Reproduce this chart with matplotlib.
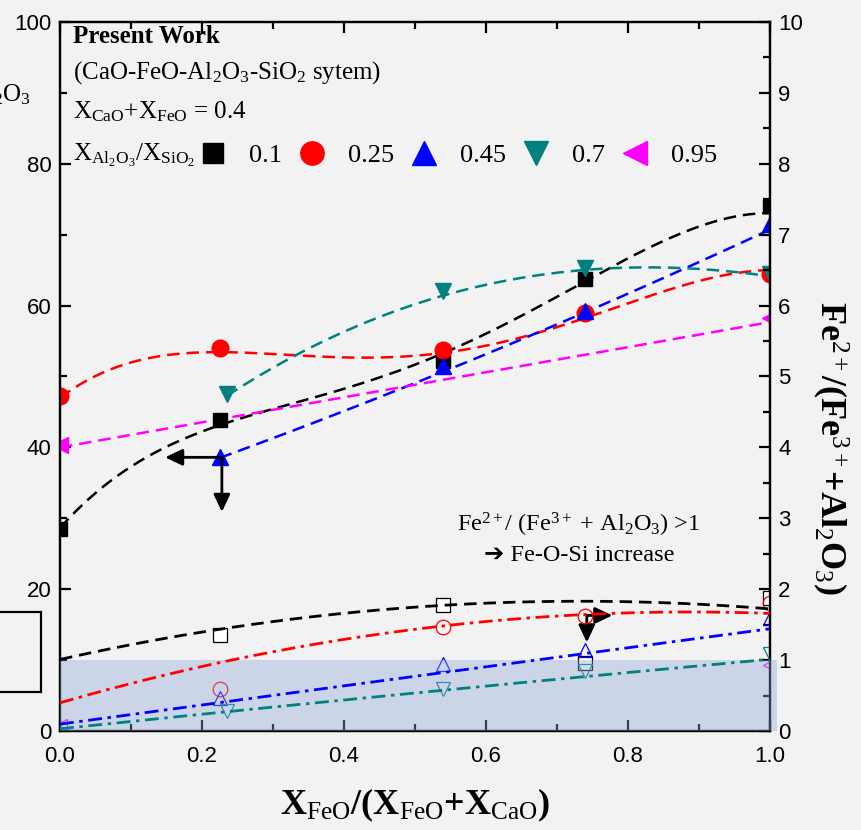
import numpy as np
import matplotlib
matplotlib.use("Agg")
import matplotlib.pyplot as plt
from matplotlib.patches import Rectangle

plt.rcParams['font.family'] = ['Liberation Serif', 'DejaVu Serif']
plt.rcParams['mathtext.fontset'] = 'custom'
plt.rcParams['mathtext.rm'] = 'Liberation Serif'
plt.rcParams['mathtext.it'] = 'Liberation Serif:italic'
plt.rcParams['mathtext.bf'] = 'Liberation Serif:bold'
plt.rcParams['lines.scale_dashes'] = False

# ratio X_Al2O3/X_SiO2 for each series
ratios = ['0.1', '0.25', '0.45', '0.7', '0.95']
colors = ['black', '#ff0000', '#0000ff', '#008080', '#ff00ff']
mk_full = ['s', 'o', '^', 'v', '<']

# upper data (left axis, 0-100), filled markers
up_x = [[0.0, 0.225, 0.54, 0.74, 1.0],
        [0.0, 0.225, 0.54, 0.74, 1.0],
        [0.225, 0.54, 0.74, 1.0],
        [0.235, 0.54, 0.74, 1.0],
        [0.0, 1.0]]
up_y = [[28.5, 43.8, 52.2, 63.8, 74.0],
        [47.2, 54.0, 53.7, 59.0, 64.5],
        [38.7, 51.5, 59.2, 71.5],
        [47.5, 62.0, 65.3, 64.5],
        [40.3, 58.3]]

# trend lines of upper data
fit_up_x = [[0.0, 0.016, 0.138, 0.22, 0.374, 0.538, 0.59, 0.665, 0.739, 0.996],
            [0.0, 0.225, 0.435, 0.54, 0.74, 1.0],
            [0.223, 0.538, 0.741, 0.996],
            [0.241, 0.477, 0.538, 0.739, 0.854, 0.996],
            [0.0, 0.996]]
fit_up_y = [[28.8, 30.4, 38.6, 43.6, 48.0, 52.7, 55.1, 59.7, 63.6, 73.0],
            [47.0, 53.4, 52.8, 53.2, 58.3, 65.0],
            [38.4, 50.8, 58.9, 70.6],
            [47.7, 59.0, 61.7, 65.3, 65.0, 64.3],
            [40.0, 57.6]]
fit_up_deg = [4, 4, 2, 3, 1]

# lower data (right axis, Fe2+/(Fe3+ + Al2O3)), open markers
lo_x = [[0.225, 0.54, 0.74, 1.0],
        [0.225, 0.54, 0.74, 1.0],
        [0.225, 0.54, 0.74, 1.0],
        [0.235, 0.54, 0.74, 1.0],
        [0.0, 1.0]]
lo_y = [[1.36, 1.78, 0.96, 1.88],
        [0.59, 1.47, 1.62, 1.81],
        [0.47, 0.94, 1.14, 1.60],
        [0.28, 0.59, 0.85, 1.09],
        [0.07, 0.93]]

# trend lines of lower data
fit_x = [0.0, 0.214, 0.52, 0.742, 1.0]
fit_lo = [[0.99, 1.45, 1.77, 1.79, 1.74],
          [0.37, 0.99, 1.46, 1.60, 1.68],
          [0.10, 0.38, 0.80, 1.10, 1.44],
          [0.04, 0.24, 0.54, 0.80, 1.00]]

# arrows (left axis units): start -> tip
arrows = [((0.225, 38.6), (0.148, 38.6)),
          ((0.228, 38.6), (0.228, 30.9)),
          ((0.742, 16.3), (0.778, 16.3)),
          ((0.742, 16.3), (0.742, 12.5))]

bg = '#f2f2f2'
fig = plt.figure(figsize=(8.62, 8.30), dpi=100, facecolor=bg)
ax = fig.add_axes([60/862, 1-731/830, 710/862, 709/830])
ax.set_facecolor(bg)
ax2 = ax.twinx()

dash = [9, 5]
dashdot = [10, 4, 2.5, 4]

for i in range(5):
    c = colors[i]
    xs = np.linspace(min(up_x[i]), max(up_x[i]), 200)
    p = np.polyfit(fit_up_x[i], fit_up_y[i], fit_up_deg[i])
    ax.plot(xs, np.polyval(p, xs), color=c, lw=1.8, dashes=dash, zorder=3)
    ax.plot(up_x[i], up_y[i], mk_full[i], color=c, ms=12 if mk_full[i] != 's' else 10,
            zorder=4, label=ratios[i])

for i in range(4):
    c = colors[i]
    xs = np.linspace(0, 1.0, 200)
    p = np.polyfit(fit_x, fit_lo[i], 2)
    ax2.plot(xs, np.polyval(p, xs), color=c, lw=2.0,
             dashes=dash if i == 0 else dashdot, zorder=3)

for i in range(5):
    c = colors[i]
    fc = 'white' if i == 0 else 'none'
    ax2.plot(lo_x[i], lo_y[i], mk_full[i], mfc=fc, mec=c, mew=0.9, ms=10.5, zorder=2)

ax2.add_patch(Rectangle((0, 0), 1.01, 1.0, facecolor='#8fa8d6', alpha=0.38,
                        edgecolor='none', zorder=2.6, clip_on=False))

for (s, t) in arrows:
    ax.annotate('', xy=t, xytext=s,
                arrowprops=dict(arrowstyle='-|>,head_length=0.95,head_width=0.45',
                                color='black', lw=2, mutation_scale=11,
                                shrinkA=0, shrinkB=0), zorder=5)

ax.set_xlim(0, 1.0)
ax.set_ylim(0, 100)
ax2.set_ylim(0, 10)
ax.set_xticks(np.arange(0, 1.01, 0.2))
ax.set_xticks(np.arange(0, 1.01, 0.1), minor=True)
ax.set_xticklabels(['0.0', '0.2', '0.4', '0.6', '0.8', '1.0'])
ax.set_yticks(np.arange(0, 101, 20))
ax.set_yticks(np.arange(0, 101, 10), minor=True)
ax2.set_yticks(np.arange(0, 11, 1))
ax2.set_yticks(np.arange(0, 10.1, 0.5), minor=True)

for a in (ax, ax2):
    for sp in a.spines.values():
        sp.set_linewidth(1.6)
    a.tick_params(which='both', direction='in', width=1.6, labelsize=16,
                  labelfontfamily='Liberation Sans', pad=6)
    a.tick_params(which='major', length=8)
    a.tick_params(which='minor', length=5)
ax.tick_params(which='both', top=True)
ax.tick_params(axis='x', pad=11)

tf = dict(transform=ax.transAxes, fontsize=18, ha='left', va='center')
ax.text(0.018, 0.979, 'Present Work', fontweight='bold', **tf)
ax.text(0.018, 0.929, '(CaO-FeO-Al$_2$O$_3$-SiO$_2$ sytem)', **tf)
ax.text(0.018, 0.873, 'X$_{\\rm CaO}$+X$_{\\rm FeO}$ = 0.4', **tf)
ax.text(0.018, 0.812, 'X$_{\\rm Al_2O_3}$/X$_{\\rm SiO_2}$', **tf)

ax.legend(loc='center left', bbox_to_anchor=(0.201, 0.812), ncol=5, frameon=False,
          fontsize=19, handlelength=0.8, handletextpad=0.95, columnspacing=0.75,
          borderpad=0, borderaxespad=0, markerscale=1.4)

ax.text(0.731, 0.291, 'Fe$^{2+}$/ (Fe$^{3+}$ + Al$_2$O$_3$) >1', transform=ax.transAxes,
        fontsize=17.5, ha='center', va='center')
ax.text(0.731, 0.248, '\u2794 Fe-O-Si increase', transform=ax.transAxes,
        fontsize=17.5, ha='center', va='center', family=['Liberation Serif', 'DejaVu Sans'])

ax.set_xlabel('X$_{\\rm FeO}$/(X$_{\\rm FeO}$+X$_{\\rm CaO}$)', fontsize=26,
              fontweight='bold', labelpad=14)
fig.text(0.963, 0.46, 'Fe$^{2+}$/(Fe$^{3+}$+Al$_2$O$_3$)', rotation=270, fontsize=26,
         fontweight='bold', ha='center', va='center')

# cut-off pieces of the neighbouring panel
fig.text(31/862, 1-95/830, 'Al$_2$O$_3$', fontsize=18, ha='right', va='center')
fig.patches.append(Rectangle((-0.05, 1-692/830), 0.05+41/862, 80/830, fill=False,
                             lw=1.6, edgecolor='black', transform=fig.transFigure))

fig.savefig('out.png', dpi=100, facecolor=bg)
